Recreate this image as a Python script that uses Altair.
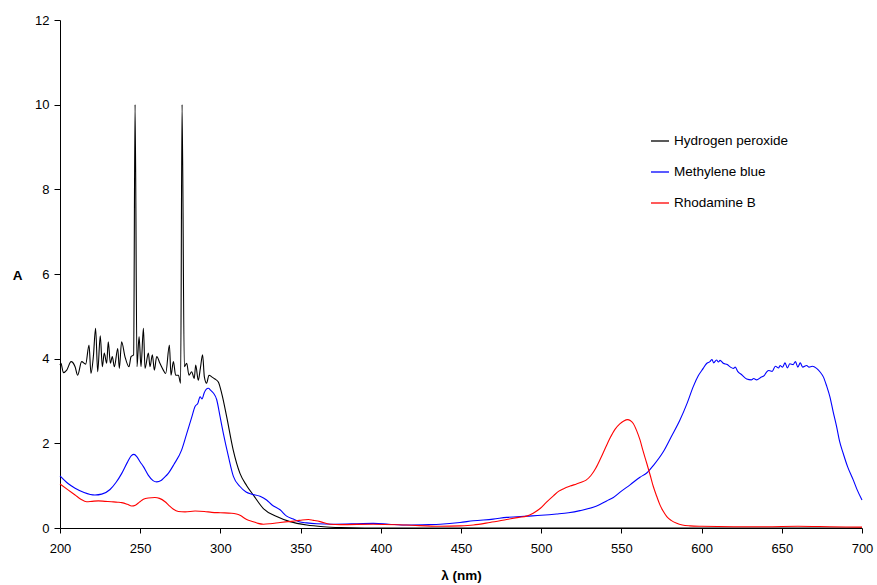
import altair as alt
import pandas as pd

# Absorption spectra (wavelength in nm, absorbance A)
h2o2_nm = [200, 200.6, 202.1, 204.2, 206.9, 209.4, 211, 213.5, 216, 218.1, 219.3, 220.8,
           222.2, 223.5, 225.1, 226.4, 227.6, 229.1, 230.1, 231.4, 232.6, 233.9, 236, 237,
           238.4, 240.5, 243, 244.3, 245.9, 246.8, 248, 249.3, 250.5, 252, 253, 255.1,
           256.1, 257.6, 258.8, 260.3, 262.3, 264.4, 265.9, 268.2, 269.2, 270.7, 272.1,
           273.8, 275.2, 276.1, 277.5, 279, 280.4, 282.1, 283.7, 284.6, 286.2, 287.5,
           288.9, 290, 291.4, 292.9, 294.6, 296.6, 298.7, 301, 303.9, 308, 312.2, 316.4,
           320.5, 326.8, 335.1, 343.4, 353.8, 364.2, 375, 390, 450, 550, 700]
h2o2_a = [3.85, 3.89, 3.67, 3.73, 3.93, 3.81, 3.61, 3.93, 3.87, 4.32, 3.65, 4.05,
          4.72, 3.69, 4.54, 3.81, 4.13, 3.89, 4.40, 3.89, 4.05, 3.81, 4.24, 3.77,
          4.40, 4.05, 3.81, 4.05, 4.09, 10.0, 3.81, 4.52, 3.81, 4.72, 3.77, 4.13,
          3.81, 4.09, 3.73, 4.05, 3.89, 3.73, 3.65, 4.32, 3.61, 3.93, 3.61,
          3.61, 3.42, 10.0, 3.81, 3.89, 3.61, 3.69, 3.53, 3.85, 3.49, 3.77,
          4.09, 3.57, 3.42, 3.61, 3.57, 3.52, 3.45, 3.15, 2.63, 1.84, 1.29, 1.0,
          0.78, 0.46, 0.27, 0.15, 0.07, 0.03, 0.01, 0.0, 0.0, 0.0, 0.0]

mb_nm = [200, 205, 209.4, 215, 221.8, 226, 231.2, 235, 238.5, 242, 244.5, 246.1, 248,
         250, 252, 255, 258, 260.3, 263, 265, 267.5, 271, 275.8, 279, 282, 284.2, 286,
         287.3, 288.5, 290, 291, 292.5, 294, 295.6, 297.7, 299.8, 301.8, 305, 308.1,
         312.2, 316, 319.5, 324.7, 328.8, 332, 337.2, 341.3, 345.5, 349, 353.8, 360,
         370.4, 385, 395.3, 405, 416, 430, 437, 449.4, 457.7, 470, 478.5, 491, 500,
         509.6, 517, 524.2, 534.6, 540.8, 545, 550, 555.4, 561.6, 565.8, 570, 576.1,
         581, 586.5, 591, 594.8, 598, 601, 603, 605.2, 606.5, 607.5, 609.3, 610.5,
         611.5, 613.5, 616, 618, 619.8, 621, 622.5, 625, 628.1, 631, 632.5, 634.3, 637,
         639, 640.6, 642, 644, 646, 648, 648.9, 650.5, 652, 653.5, 655, 657.1, 658.5,
         660, 661.5, 663, 665.5, 667, 669, 671.7, 674, 675.9, 678, 680, 682, 684.2,
         686, 688.3, 691, 694.6, 697, 700]
mb_a = [1.23, 1.05, 0.94, 0.84, 0.78, 0.8, 0.91, 1.08, 1.29, 1.55, 1.71, 1.74, 1.68,
        1.56, 1.45, 1.25, 1.12, 1.09, 1.12, 1.19, 1.29, 1.5, 1.84, 2.23, 2.6, 2.87, 2.95,
        3.1, 3.05, 3.2, 3.27, 3.3, 3.25, 3.19, 3.03, 2.63, 2.24, 1.69, 1.22,
        0.98, 0.85, 0.8, 0.75, 0.66, 0.55, 0.43, 0.28, 0.21, 0.15, 0.12, 0.1,
        0.09, 0.1, 0.11, 0.09, 0.07, 0.08, 0.09, 0.13, 0.17, 0.21, 0.25, 0.28, 0.3,
        0.33, 0.36, 0.41, 0.52, 0.64, 0.72, 0.87, 1.02, 1.2, 1.3, 1.48, 1.8,
        2.15, 2.55, 2.95, 3.34, 3.6, 3.77, 3.88, 3.93, 3.98, 3.9, 3.97, 3.92,
        3.96, 3.89, 3.86, 3.8, 3.77, 3.8, 3.7, 3.62, 3.52, 3.5, 3.53, 3.5, 3.56,
        3.6, 3.69, 3.72, 3.7, 3.82, 3.78, 3.84, 3.8, 3.9, 3.78, 3.88, 3.86, 3.93,
        3.8, 3.9, 3.8, 3.84, 3.8, 3.82, 3.77, 3.68, 3.57, 3.35, 3.1, 2.75, 2.39,
        2.05, 1.76, 1.45, 1.13, 0.9, 0.66]

rb_nm = [200, 205, 209.4, 213, 216.6, 220, 223.9, 228, 232, 236, 238.5, 242, 244.7,
         247, 249.5, 252, 255, 259.2, 262, 265.5, 268, 270.5, 273.8, 278, 284.2, 290,
         294.6, 300, 307, 310, 312.2, 316.4, 320.5, 323.5, 326.8, 331, 337.2, 342,
         347.6, 351, 354.9, 358, 362.2, 368.3, 375, 395.3, 416, 436.9, 449.4, 457.7,
         468, 478.5, 486, 491, 495, 499.3, 503, 507.6, 511, 514, 518, 522, 525,
         528, 531, 534, 537, 540, 543, 546, 549, 551.5, 553.9, 555.5,
         557.4, 559.5, 561.6, 563.5, 565.8, 568, 569.9, 572, 574.1, 576, 578.3, 581,
         584.5, 588, 592.8, 600, 620, 640, 660, 680, 700]
rb_a = [1.04, 0.9, 0.78, 0.68, 0.62, 0.63, 0.64, 0.63, 0.62, 0.61, 0.6, 0.56, 0.52,
        0.54, 0.61, 0.68, 0.71, 0.72, 0.7, 0.62, 0.53, 0.45, 0.39, 0.38, 0.4, 0.39,
        0.37, 0.36, 0.35, 0.33, 0.3, 0.2, 0.15, 0.11, 0.09, 0.1, 0.13, 0.15,
        0.17, 0.19, 0.2, 0.18, 0.15, 0.09, 0.08, 0.09, 0.07, 0.04, 0.05, 0.07,
        0.13, 0.2, 0.25, 0.28, 0.35, 0.46, 0.6, 0.76, 0.87, 0.93, 0.99, 1.04, 1.08,
        1.13, 1.24, 1.41, 1.64, 1.89, 2.13, 2.33, 2.46, 2.53, 2.56, 2.54,
        2.47, 2.3, 2.08, 1.82, 1.53, 1.24, 0.98, 0.75, 0.54, 0.4, 0.27, 0.18,
        0.11, 0.07, 0.05, 0.04, 0.03, 0.03, 0.04, 0.03, 0.02]

series_names = ["Hydrogen peroxide", "Methylene blue", "Rhodamine B"]
series_colors = ["#000000", "#0000ff", "#ff0000"]

frames = []
for name, xs, ys in zip(series_names, [h2o2_nm, mb_nm, rb_nm], [h2o2_a, mb_a, rb_a]):
    frames.append(pd.DataFrame({"wavelength": xs, "absorbance": ys, "series": name,
                                "order": range(len(xs))}))
df = pd.concat(frames, ignore_index=True)

font = "Liberation Sans"

chart = alt.Chart(df).mark_line(strokeWidth=1.1, interpolate="monotone").encode(
    x=alt.X("wavelength:Q",
            scale=alt.Scale(domain=[200, 700], nice=False, zero=False),
            axis=alt.Axis(title="λ (nm)", values=list(range(200, 701, 50)),
                          grid=False, tickSize=5, labelPadding=9,
                          titleY=47, titleBaseline="middle")),
    y=alt.Y("absorbance:Q",
            scale=alt.Scale(domain=[0, 12], nice=False),
            axis=alt.Axis(title="A", values=list(range(0, 13, 2)), grid=False,
                          tickSize=6, labelPadding=5, titleAngle=0,
                          titleX=-43, titleY=255, titleAlign="center",
                          titleBaseline="middle")),
    color=alt.Color("series:N",
                    scale=alt.Scale(domain=series_names, range=series_colors),
                    legend=alt.Legend(title=None, orient="none", legendX=590, legendY=111,
                                      symbolType="stroke", symbolSize=324,
                                      symbolStrokeWidth=1.3, labelOffset=4,
                                      rowPadding=14, padding=0,
                                      labelFontSize=13.5, labelFont=font,
                                      labelColor="#000000")),
    detail="series:N",
    order="order:Q",
).properties(
    width=802,
    height=508,
    autosize=alt.AutoSizeParams(type="none"),
    padding={"left": 60, "top": 20, "right": 15, "bottom": 57},
).configure_view(
    stroke=None,
).configure_axis(
    domainColor="#000000",
    tickColor="#000000",
    labelColor="#000000",
    titleColor="#000000",
    labelFont=font,
    titleFont=font,
    labelFontSize=13,
    titleFontSize=13.5,
    titleFontWeight="bold",
    labelFlush=False,
)

chart.save("out.html", embed_options={"renderer": "svg", "actions": False})
